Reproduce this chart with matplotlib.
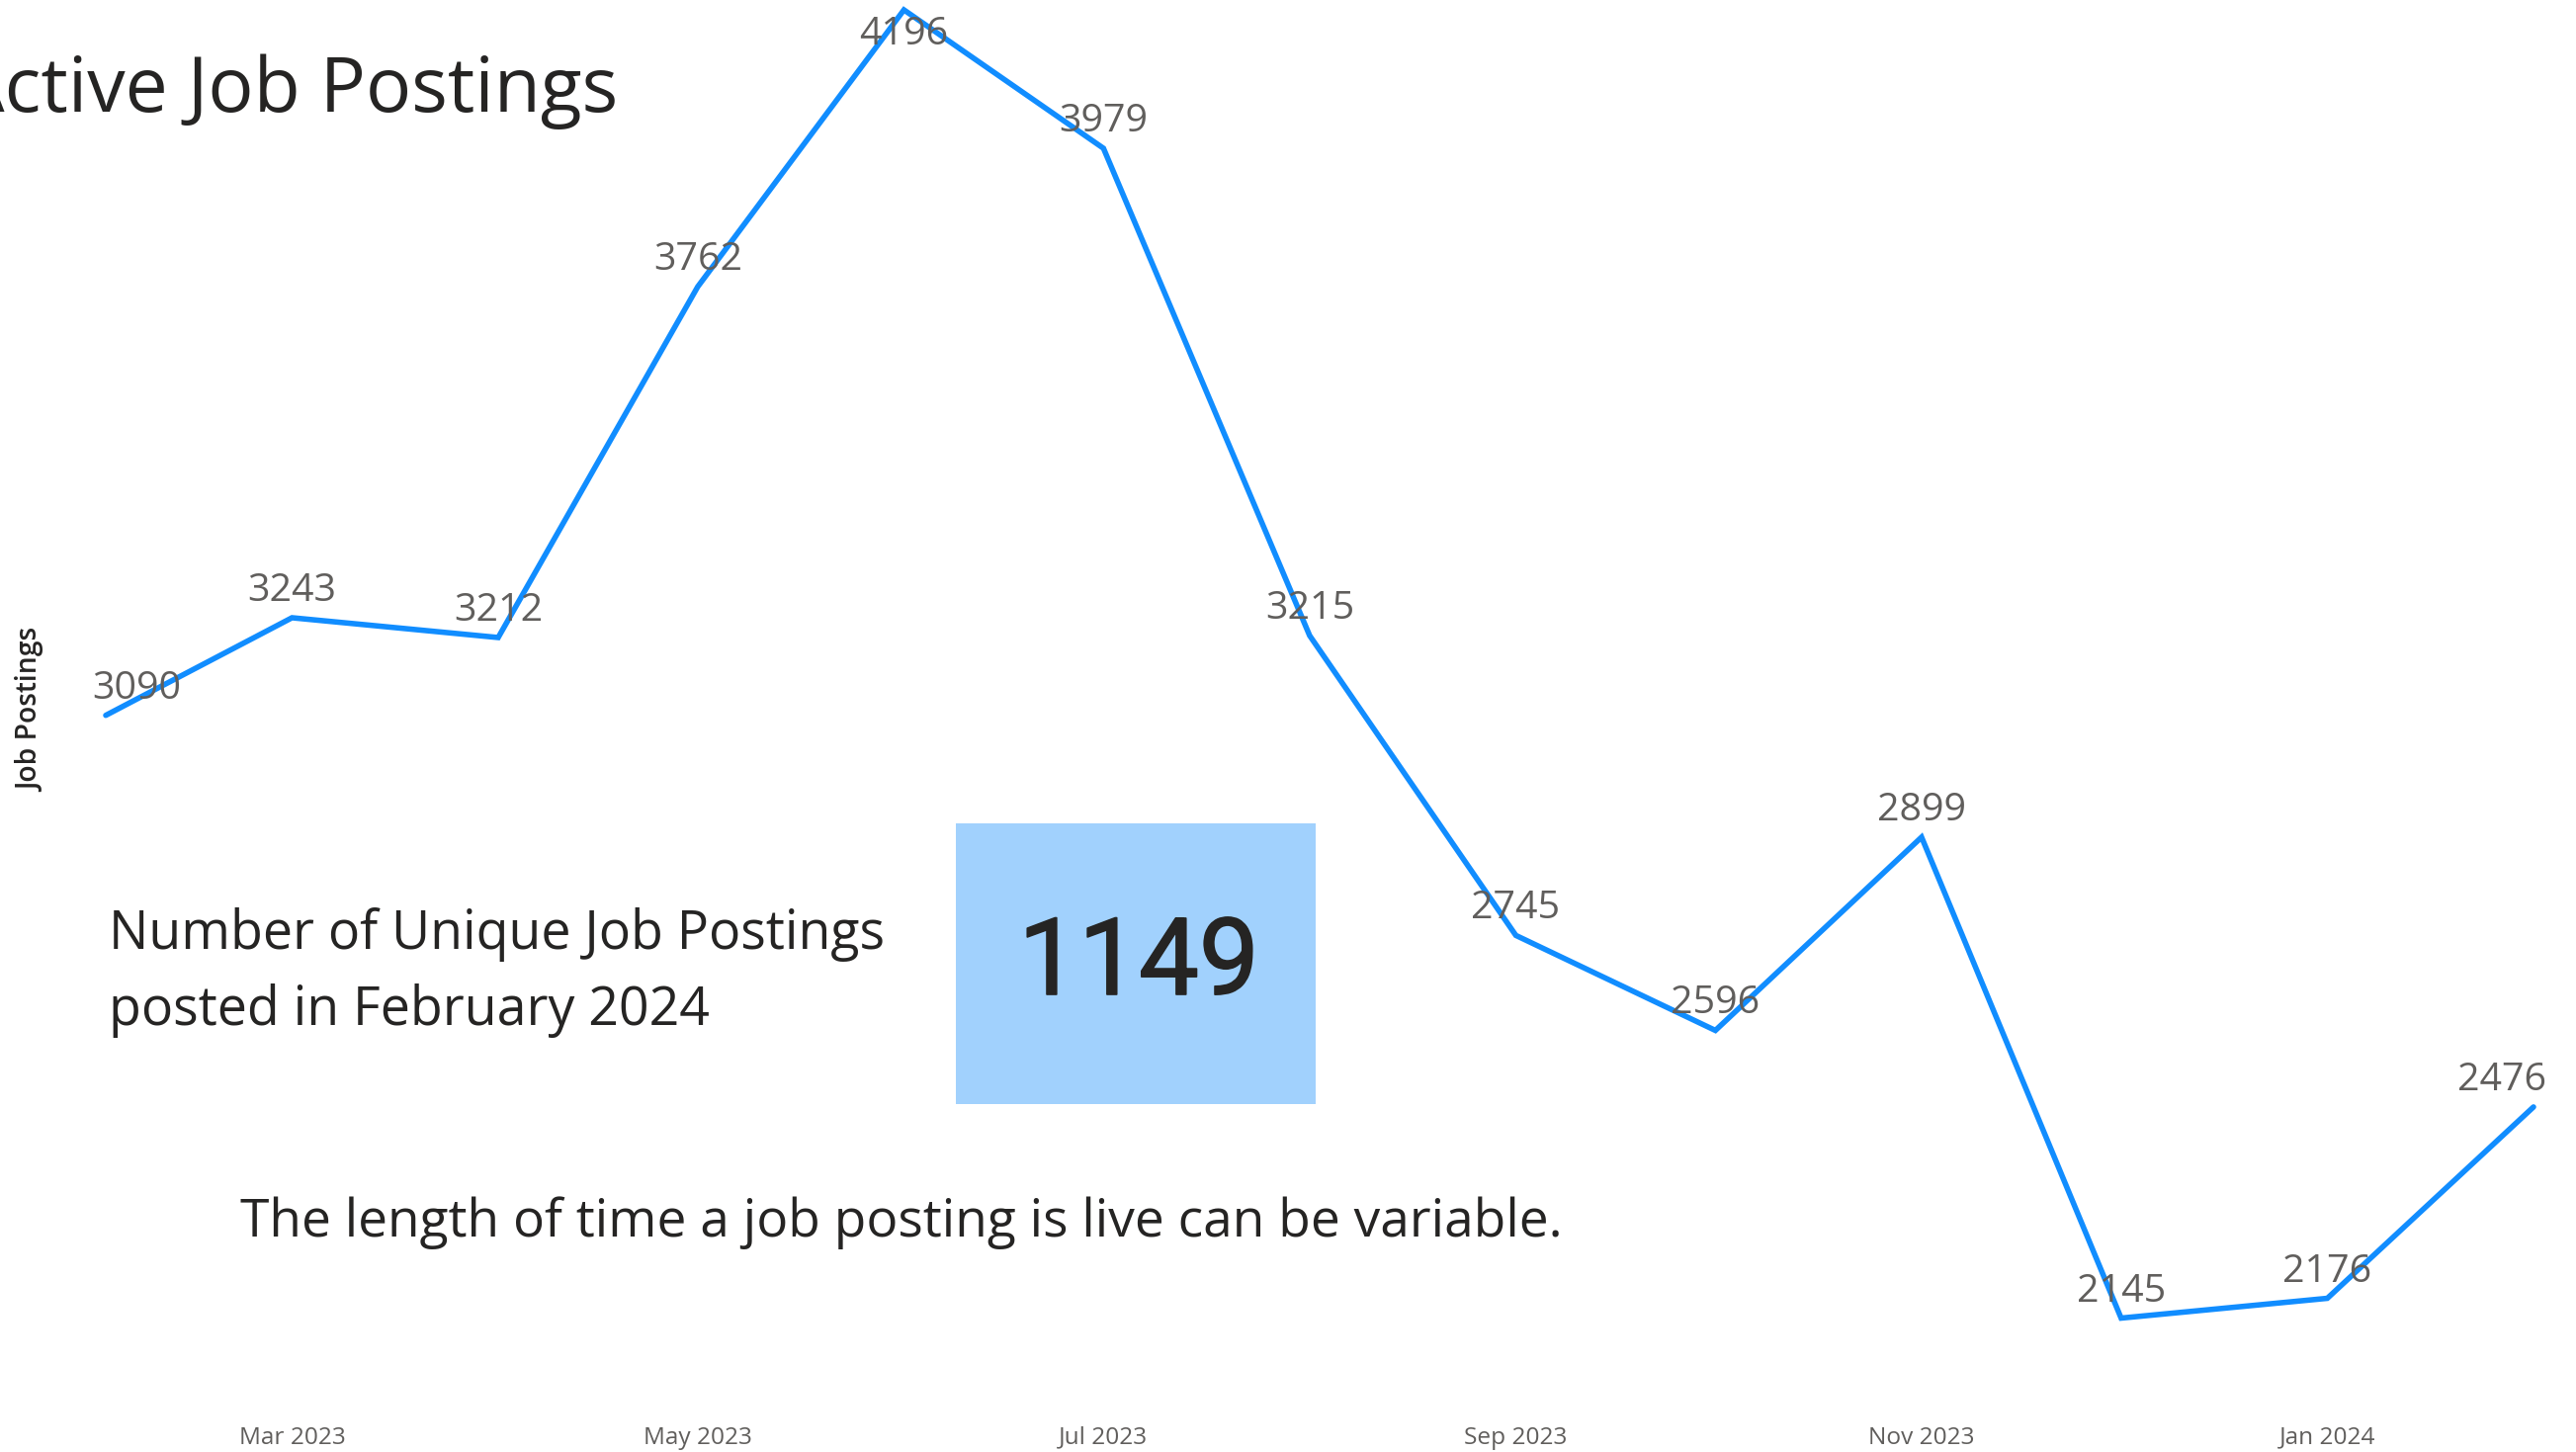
import matplotlib.pyplot as plt
import matplotlib.dates as mdates
import matplotlib.patheffects as pe
import pandas as pd
from matplotlib.patches import Rectangle

months = pd.date_range("2023-02-01", "2024-02-01", freq="MS")
postings = [3090, 3243, 3212, 3762, 4196, 3979, 3215, 2745, 2596, 2899, 2145, 2176, 2476]
tick_months = ["2023-03-01", "2023-05-01", "2023-07-01", "2023-09-01", "2023-11-01", "2024-01-01"]
unique_feb = 1149

W, H = 2606, 1469
DPI = 200
BLUE = "#118DFF"
DARK = "#252423"
GREY = "#605E5C"

plt.rcParams["font.family"] = ["Open Sans", "DejaVu Sans"]

fig = plt.figure(figsize=(W / DPI, H / DPI), dpi=DPI)
b = 29 / H
ax = fig.add_axes([0, b, 1, 1 - b])

ax.plot(months, postings, color=BLUE, lw=2.0, solid_capstyle="round", solid_joinstyle="miter", zorder=3)

# value labels (pixel offsets, a few are nudged like in the report)
for i, (d, v) in enumerate(zip(months, postings)):
    dx, dy = 0, 17
    if i == 0:
        dx = 31
    if i == len(postings) - 1:
        dx = -32
    if v == max(postings):
        dy = -35
    ax.annotate(str(v), (d, v), xytext=(dx, dy), textcoords="offset pixels",
                ha="center", va="baseline", fontsize=14.2, color=GREY, zorder=4)

# continuous date axis: first point at 107 px, last at 2563 px
x0 = mdates.date2num(months[0])
x1 = mdates.date2num(months[-1])
ppd = (2563 - 107) / (x1 - x0)
ax.set_xlim(x0 - 107 / ppd, x0 + (W - 107) / ppd)
ax.set_ylim(1980, 4211.5)
ticks = pd.to_datetime(tick_months)
ax.set_xticks(ticks)
ax.set_xticklabels([t.strftime("%b %Y") for t in ticks], fontsize=8.8, color=GREY)
ax.tick_params(axis="x", length=0, pad=1)
ax.set_yticks([])
for s in ax.spines.values():
    s.set_visible(False)
ax.set_ylabel("Job Postings", fontsize=10.2, color=DARK, weight="semibold")
ax.yaxis.set_label_coords(46 / W, (1440 - 718) / 1440)

# title, clipped at left edge as in the report
fig.text(625 / W, 1 - 113 / H, "Active Job Postings", ha="right", va="baseline",
         fontsize=27.7, color=DARK)

# card text
fig.text(110 / W, 1 - 960 / H, "Number of Unique Job Postings", ha="left", va="baseline",
         fontsize=19.3, color=DARK)
fig.text(110 / W, 1 - 1037 / H, "posted in February 2024", ha="left", va="baseline",
         fontsize=19.3, color=DARK)
fig.text(243 / W, 1 - 1251 / H, "The length of time a job posting is live can be variable.",
         ha="left", va="baseline", fontsize=19.2, color=DARK)

# KPI card
fig.patches.append(Rectangle((967 / W, 1 - 1117 / H), (1331 - 967) / W, (1117 - 833) / H,
                             transform=fig.transFigure, facecolor="#A1D1FD", edgecolor="none",
                             zorder=1))
fig.text(1152 / W, 1 - 1006 / H, str(unique_feb), ha="center", va="baseline",
         fontsize=39, color=DARK, family=["Roboto", "DejaVu Sans"], zorder=2,
         path_effects=[pe.withStroke(linewidth=0.6, foreground=DARK)])

fig.savefig("out.png", dpi=DPI)
